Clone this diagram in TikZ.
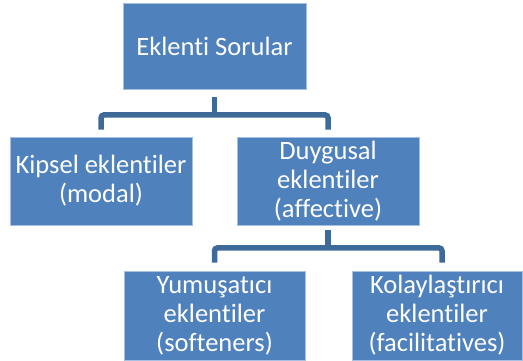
\documentclass[tikz,border=0pt]{standalone}
\usepackage{fontspec}
\setmainfont{Carlito}[Ligatures={NoCommon}]
\definecolor{boxblue}{RGB}{79,129,189}
\definecolor{boxedge}{RGB}{165,192,226}
\definecolor{connblue}{RGB}{62,106,154}
\begin{document}
\begin{tikzpicture}[x=1pt,y=-1pt,
  box/.style={fill=boxblue,draw=boxedge,line width=0.8pt,text=white,
    align=center,inner sep=0pt,minimum height=88pt,
    font=\fontsize{26.5}{29}\selectfont},
  conn/.style={draw=connblue,line width=5.5pt,rounded corners=3pt}]
\useasboundingbox (0,0) rectangle (523,361);
\node[box,minimum width=183pt,minimum height=86pt] (top) at (214.5,46) {Eklenti Sorular};
\node[box,minimum width=182pt] (kipsel) at (101,181) {Kipsel eklentiler\\(modal)};
\node[box,minimum width=182pt] (duygusal) at (328,181) {Duygusal\\eklentiler\\(affective)};
\node[box,minimum width=181pt,minimum height=89pt] (yumus) at (214.5,315.5) {Yumuşatıcı\\eklentiler\\(softeners)};
\node[box,minimum width=170pt,minimum height=89pt] (kolay) at (437,315.5) {Kolaylaştırıcı\\eklentiler\\(facilitatives)};
\draw[conn] ([yshift=7pt]kipsel.north) |- ([yshift=-25.5pt]top.south) -| ([yshift=7pt]duygusal.north);
\draw[conn] ([yshift=-8pt]top.south) -- ([yshift=-25.5pt]top.south);
\draw[conn] ([yshift=8pt]yumus.north) |- ([yshift=-22.5pt]duygusal.south) -| ([xshift=5pt,yshift=8pt]kolay.north);
\draw[conn] ([yshift=-5pt]duygusal.south) -- ([yshift=-22.5pt]duygusal.south);
\end{tikzpicture}
\end{document}
